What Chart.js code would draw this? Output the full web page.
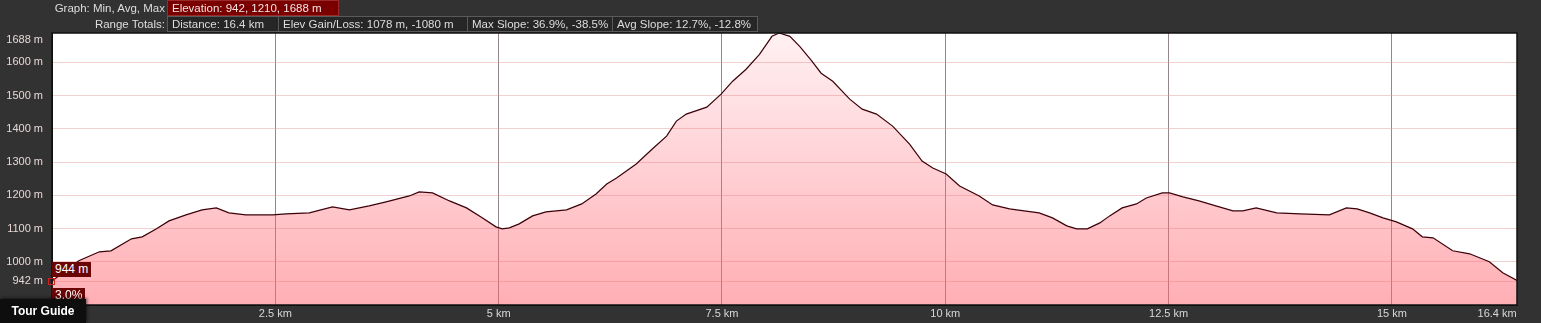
<!DOCTYPE html>
<html>
<head>
<meta charset="utf-8">
<script src="https://cdn.jsdelivr.net/npm/chart.js@4/dist/chart.umd.min.js"></script>
<style>
  html, body { margin: 0; padding: 0; background: #323232; overflow: hidden; }
  body { width: 1541px; height: 323px; position: relative; font-family: "Liberation Sans", Arial, sans-serif; font-size: 11.5px; color: #ddd; }
  #chart { position: absolute; left: 0; top: 0; }
  .lbl { position: absolute; text-align: right; line-height: 16px; color: #ddd; }
  .box { position: absolute; height: 14px; line-height: 14px; padding-left: 4px; box-sizing: content-box; white-space: nowrap; overflow: hidden; }
  .dark { background: #262626; border: 1px solid #5a5a5a; color: #ddd; }
  .red { background: #7a0000; border: 1px solid #9a2a2a; color: #f4e4e4; }
  .tag { position: absolute; background: #6a0505; color: #fff; font-size: 12px; line-height: 15px; padding: 0 3px; }
  #marker { position: absolute; left: 48px; top: 278px; width: 5px; height: 5px; border: 1px solid #d02020; }
  #guide { position: absolute; left: 0; top: 299px; width: 86px; height: 24px; background: #0e0e0e; color: #fff; font-weight: bold; font-size: 12px; line-height: 24px; text-align: center; box-shadow: 1px -1px 3px rgba(0,0,0,0.6); }
</style>
</head>
<body>
<canvas id="chart" width="1541" height="323"></canvas>

<div class="lbl" style="left:0;top:0;width:165px;">Graph: Min, Avg, Max</div>
<div class="box red" style="left:167px;top:0;width:166px;">Elevation: 942, 1210, 1688 m</div>
<div class="lbl" style="left:0;top:16px;width:165px;">Range Totals:</div>
<div class="box dark" style="left:167px;top:16px;width:106px;">Distance: 16.4 km</div>
<div class="box dark" style="left:278px;top:16px;width:184px;">Elev Gain/Loss: 1078 m, -1080 m</div>
<div class="box dark" style="left:467px;top:16px;width:140px;">Max Slope: 36.9%, -38.5%</div>
<div class="box dark" style="left:612px;top:16px;width:140px;">Avg Slope: 12.7%, -12.8%</div>

<div class="tag" style="left:52px;top:262px;">944 m</div>
<div id="marker"></div>
<div class="tag" style="left:52px;top:288px;">3.0%</div>
<div id="guide">Tour Guide</div>

<script>
// distance along the route (km) and elevation (m)
var distKm = [0.00, 0.30, 0.53, 0.66, 0.89, 1.01, 1.17, 1.31, 1.50, 1.68, 1.84, 1.98, 2.17, 2.47, 2.62, 2.88,
  3.14, 3.33, 3.55, 3.74, 4.00, 4.11, 4.26, 4.45, 4.64, 4.82, 4.97, 5.04, 5.12, 5.23, 5.38, 5.53, 5.76, 5.93,
  6.09, 6.21, 6.32, 6.54, 6.72, 6.88, 6.99, 7.10, 7.33, 7.49, 7.62, 7.77, 7.92, 8.06, 8.14, 8.26, 8.37, 8.50,
  8.61, 8.74, 8.93, 9.07, 9.23, 9.41, 9.60, 9.74, 9.86, 10.01, 10.16, 10.38, 10.53, 10.72, 10.80, 11.05, 11.20,
  11.36, 11.47, 11.59, 11.73, 11.84, 11.98, 12.14, 12.25, 12.43, 12.51, 12.66, 12.84, 12.99, 13.22, 13.33,
  13.48, 13.71, 13.97, 14.30, 14.49, 14.61, 14.75, 14.90, 15.05, 15.23, 15.34, 15.46, 15.68, 15.87, 16.09,
  16.24, 16.40];
var elevM = [942, 1003, 1030, 1033, 1069, 1075, 1099, 1123, 1141, 1156, 1162, 1147, 1141, 1141, 1144, 1147,
  1165, 1156, 1168, 1180, 1198, 1210, 1207, 1183, 1162, 1132, 1105, 1099, 1102, 1114, 1138, 1150, 1156, 1174,
  1204, 1234, 1252, 1294, 1339, 1378, 1423, 1444, 1465, 1504, 1543, 1579, 1624, 1678, 1688, 1678, 1648, 1606,
  1567, 1543, 1489, 1459, 1444, 1408, 1354, 1303, 1282, 1264, 1228, 1198, 1171, 1159, 1156, 1147, 1132,
  1108, 1099, 1099, 1117, 1138, 1162, 1174, 1192, 1207, 1207, 1195, 1183, 1171, 1153, 1153,
  1162, 1147, 1144, 1141, 1162, 1159, 1147, 1132, 1120, 1099, 1075, 1072, 1033, 1024, 1000,
  967, 944];

var xTicks = [2.5, 5, 7.5, 10, 12.5, 15, 16.4];
var yTicks = [942, 1000, 1100, 1200, 1300, 1400, 1500, 1600, 1688];

var points = distKm.map(function(d, i) { return { x: d, y: elevM[i] }; });

var plotFrame = {
  id: 'plotFrame',
  beforeDraw: function(chart) {
    var a = chart.chartArea, c = chart.ctx;
    c.save();
    c.fillStyle = '#ffffff';
    c.fillRect(a.left, a.top, a.right - a.left, a.bottom - a.top);
    c.restore();
  },
  afterDraw: function(chart) {
    var a = chart.chartArea, c = chart.ctx;
    c.save();
    c.strokeStyle = '#111';
    c.lineWidth = 1.5;
    c.strokeRect(a.left, a.top, a.right - a.left, a.bottom - a.top);
    c.restore();
  }
};

var font = { family: '"Liberation Sans", Arial, sans-serif', size: 11 };
var pad = '\u00a0\u00a0\u00a0\u00a0\u00a0\u00a0\u00a0\u00a0\u00a0\u00a0\u00a0\u00a0\u00a0';

new Chart(document.getElementById('chart'), {
  type: 'line',
  data: {
    datasets: [{
      data: points,
      borderColor: '#3c0008',
      borderWidth: 1.2,
      pointRadius: 0,
      tension: 0,
      fill: 'start',
      backgroundColor: function(ctx) {
        var a = ctx.chart.chartArea;
        if (!a) return 'rgba(255,100,110,0.4)';
        var g = ctx.chart.ctx.createLinearGradient(0, a.top, 0, a.bottom);
        g.addColorStop(0, 'rgba(255,110,125,0.10)');
        g.addColorStop(1, 'rgba(255,100,110,0.52)');
        return g;
      }
    }]
  },
  options: {
    responsive: false,
    animation: false,
    devicePixelRatio: 1,
    layout: { padding: { top: 33, right: 24, left: 0, bottom: 0 } },
    plugins: { legend: { display: false }, tooltip: { enabled: false } },
    scales: {
      x: {
        type: 'linear',
        min: 0,
        max: 16.4,
        afterBuildTicks: function(s) { s.ticks = xTicks.map(function(v) { return { value: v }; }); },
        afterFit: function(s) { s.height = 18; s.paddingLeft = 0; s.paddingRight = 0; },
        ticks: {
          autoSkip: false, maxRotation: 0, padding: 2, color: '#d8d8d8', font: font,
          callback: function(v) { return v === 16.4 ? v + ' km' + pad : v + ' km'; }
        },
        grid: {
          drawTicks: false,
          color: function(c) { return c.tick && c.tick.value === 16.4 ? 'rgba(0,0,0,0)' : 'rgba(120,105,105,0.8)'; }
        },
        border: { display: true, color: '#111' }
      },
      y: {
        min: 870,
        max: 1688,
        afterBuildTicks: function(s) { s.ticks = yTicks.map(function(v) { return { value: v }; }); },
        afterFit: function(s) { s.width = 52; s.paddingTop = 0; s.paddingBottom = 0; },
        ticks: {
          padding: 9, color: '#e8d6d6', font: font,
          callback: function(v) { return v === 1688 ? ['', v + ' m'] : v + ' m'; }
        },
        grid: {
          drawTicks: false,
          color: function(c) { return c.tick && c.tick.value === 1688 ? 'rgba(0,0,0,0)' : 'rgba(225,150,150,0.45)'; }
        },
        border: { display: true, color: '#111' }
      }
    }
  },
  plugins: [plotFrame]
});
</script>
</body>
</html>
